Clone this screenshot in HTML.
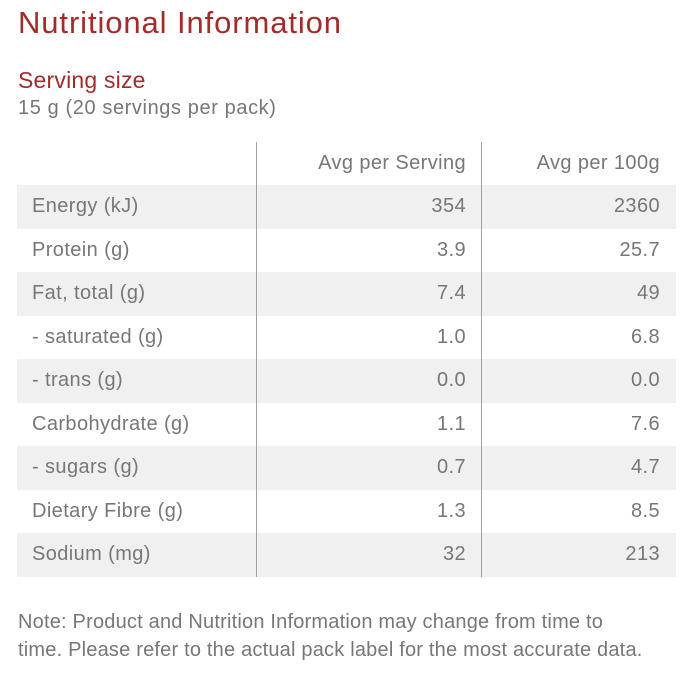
<!DOCTYPE html>
<html><head><meta charset="utf-8"><style>
body{margin:0;width:700px;height:700px;background:#fff;font-family:"Liberation Sans",sans-serif;position:relative;overflow:hidden}
.a{position:absolute;white-space:nowrap}
#title{left:18px;top:5px;font-size:31px;color:#a52a2a;letter-spacing:0.9px}
#ss{left:18px;top:67px;font-size:23px;color:#a52a2a;letter-spacing:0.2px}
#sv{left:18px;top:97px;font-size:20px;color:#777;letter-spacing:0.6px}
.row{position:absolute;left:17px;width:659px;height:43.6px;font-size:20px;color:#777;letter-spacing:0.4px}
.row.g{background:#f0f0f0}
.row span{position:absolute;top:10px}
.c1{left:15px}.c2{right:210px}.c3{right:16px}
.vl{position:absolute;top:142px;height:435px;width:1px;background:#a0a0a0}
#note{left:18px;top:608px;font-size:20px;color:#777;line-height:28px;white-space:normal;width:630px;letter-spacing:0.2px}
</style></head><body>
<div class="a" id="title">Nutritional Information</div>
<div class="a" id="ss">Serving size</div>
<div class="a" id="sv">15 g (20 servings per pack)</div>
<div id="table"></div>
<div class="vl" style="left:256px"></div>
<div class="vl" style="left:481px"></div>
<div class="a" id="note">Note: Product and Nutrition Information may change from time to time. Please refer to the actual pack label for the most accurate data.</div>
<script>
const nutrients=["Energy (kJ)","Protein (g)","Fat, total (g)","- saturated (g)","- trans (g)","Carbohydrate (g)","- sugars (g)","Dietary Fibre (g)","Sodium (mg)"];
const perServing=["354","3.9","7.4","1.0","0.0","1.1","0.7","1.3","32"];
const per100g=["2360","25.7","49","6.8","0.0","7.6","4.7","8.5","213"];
const headers=["","Avg per Serving","Avg per 100g"];
const t=document.getElementById('table');
function mk(top,cls,vals,name){
  const r=document.createElement('div');
  r.className='row'+cls;r.style.top=top+'px';
  
  
  ['c1','c2','c3'].forEach((c,i)=>{const s=document.createElement('span');s.className=c;s.textContent=vals[i];
    
    
    r.appendChild(s);});
  t.appendChild(r);
}
mk(142,'',headers,'header-row');
nutrients.forEach((n,i)=>mk(185+i*43.56,i%2===0?' g':'',[n,perServing[i],per100g[i]],'row-'+i));
</script>
</body></html>
